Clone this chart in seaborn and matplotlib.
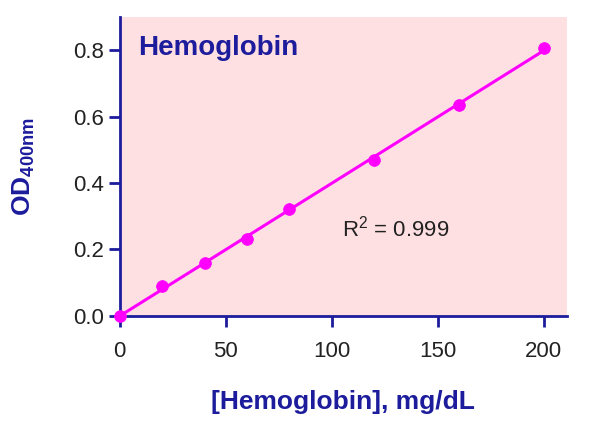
import matplotlib
matplotlib.use("Agg")
import matplotlib.pyplot as plt
import seaborn as sns
import numpy as np
import pandas as pd

conc = [0, 20, 40, 60, 80, 120, 160, 200]
od = [0.0, 0.09, 0.158, 0.232, 0.322, 0.468, 0.636, 0.808]
xticks = [0, 50, 100, 150, 200]
yticks = [0.0, 0.2, 0.4, 0.6, 0.8]

sns.set_style("ticks")
plt.rcParams['font.family'] = ['Liberation Sans', 'DejaVu Sans']
plt.rcParams['mathtext.fontset'] = 'custom'
plt.rcParams['mathtext.rm'] = 'Liberation Sans'
plt.rcParams['mathtext.bf'] = 'Liberation Sans:bold'
navy = "#1c1c9c"
mag = "#ff00ff"

fig = plt.figure(figsize=(5.9, 4.24), dpi=100)
ax = fig.add_axes([0.203, 0.255, 0.758, 0.705])
ax.set_facecolor("#ffe0e2")
df = pd.DataFrame({"x": conc, "y": od})
slope, icpt = np.polyfit(conc, od, 1)
xl = np.array([0, 200])
sns.lineplot(x=xl, y=slope * xl + icpt, ax=ax, color=mag, lw=2.2)
sns.scatterplot(data=df, x="x", y="y", ax=ax, color=mag, s=70, edgecolor=mag, zorder=5, clip_on=False)
ax.set_xlim(0, 211)
ax.set_ylim(0, 0.9)
ax.set_xticks(xticks)
ax.set_yticks(yticks)
ax.set_yticklabels([f"{v:.1f}" for v in yticks])
for s in ["top", "right"]:
    ax.spines[s].set_visible(False)
for s in ["left", "bottom"]:
    ax.spines[s].set_color(navy)
    ax.spines[s].set_linewidth(2)
ax.tick_params(colors=navy, labelcolor="#222222", width=2, length=8, labelsize=16)
ax.tick_params(axis="x", pad=10)
ax.set_xlabel("[Hemoglobin], mg/dL", fontsize=19, fontweight="bold", color=navy, labelpad=20)
ax.set_ylabel(r"OD$_{\mathbf{400nm}}$", fontsize=19, fontweight="bold", color=navy, labelpad=26)
ax.text(0.04, 0.94, "Hemoglobin", transform=ax.transAxes, fontsize=20, fontweight="bold", color=navy, va="top")
ax.text(105, 0.24, r"R$^2$ = 0.999", fontsize=16, color="#222222")
fig.savefig("out.png", dpi=100)
